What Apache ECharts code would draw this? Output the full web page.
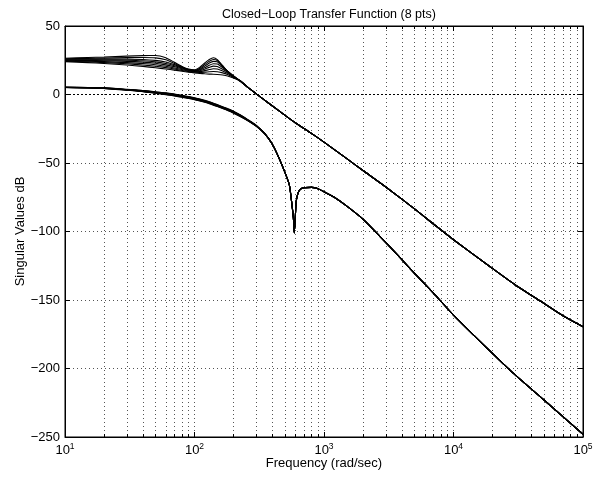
<!DOCTYPE html>
<html>
<head>
<meta charset="utf-8">
<script src="https://cdn.jsdelivr.net/npm/echarts@6/dist/echarts.min.js"></script>
<style>
  html, body { margin: 0; padding: 0; background: #fff; }
  #main { width: 606px; height: 483px; }
</style>
</head>
<body>
<div id="main"></div>
<script>
// frequencies (rad/sec) for the part where the 8 curves differ
var headFreq = [10, 15, 20, 30, 40, 50, 60, 70, 80, 90, 100, 110, 120, 130, 140, 150, 165, 180, 200, 225, 260, 300];

// upper singular value, one row per point (8 pts)
var upper1 = [24.0, 23.3, 22.6, 21.5, 20.5, 19.5, 18.6, 17.8, 17.0, 16.3, 15.8, 15.4, 15.1, 14.9, 14.8, 14.6, 14.2, 13.5, 12.0, 9.7, 5.0, 0.5];
var upper2 = [24.3, 23.8, 23.3, 22.4, 21.5, 20.6, 19.6, 18.6, 17.6, 16.7, 16.2, 16.1, 16.3, 16.6, 16.8, 16.6, 15.8, 14.6, 12.5, 9.8, 5.0, 0.5];
var upper3 = [24.7, 24.3, 24.0, 23.3, 22.6, 21.7, 20.6, 19.4, 18.2, 17.1, 16.6, 16.7, 17.4, 18.2, 18.8, 18.6, 17.2, 15.5, 12.8, 9.9, 5.0, 0.5];
var upper4 = [25.0, 24.8, 24.6, 24.2, 23.6, 22.8, 21.6, 20.2, 18.8, 17.5, 16.9, 17.3, 18.5, 19.8, 20.7, 20.5, 18.5, 16.2, 13.1, 10.0, 5.0, 0.5];
var upper5 = [25.4, 25.3, 25.2, 25.0, 24.6, 23.8, 22.6, 21.0, 19.3, 17.8, 17.2, 17.9, 19.6, 21.4, 22.5, 22.3, 19.6, 16.7, 13.3, 10.0, 5.0, 0.5];
var upper6 = [25.7, 25.8, 25.8, 25.8, 25.6, 24.9, 23.7, 21.8, 19.8, 18.0, 17.4, 18.5, 20.7, 23.0, 24.2, 23.9, 20.4, 17.0, 13.4, 10.0, 5.0, 0.5];
var upper7 = [26.1, 26.4, 26.5, 26.9, 27.0, 26.7, 25.3, 22.7, 20.2, 18.2, 17.6, 19.2, 21.9, 24.3, 25.6, 24.8, 20.8, 17.0, 13.5, 10.0, 5.0, 0.5];
var upper8 = [26.5, 27.0, 27.3, 28.0, 28.4, 28.5, 26.8, 23.5, 20.5, 18.5, 18.0, 20.0, 23.0, 25.5, 26.8, 25.5, 21.0, 17.0, 13.5, 10.0, 5.0, 0.5];

// lower singular value
var lower1 = [5.3, 5.1, 4.9, 3.8, 2.9, 1.9, 1.2, 0.3, -0.6, -1.5, -2.4, -3.3, -4.3, -5.3, -6.4, -7.4, -8.9, -10.3, -12.2, -14.8, -18.5, -22.5];
var lower2 = [5.3, 5.1, 4.8, 3.7, 2.8, 1.8, 1.0, 0.1, -0.8, -1.7, -2.6, -3.5, -4.5, -5.5, -6.6, -7.6, -9.1, -10.5, -12.4, -15.0, -18.7, -22.6];
var lower3 = [5.2, 5.0, 4.8, 3.6, 2.7, 1.6, 0.8, -0.1, -1.0, -1.9, -2.8, -3.7, -4.7, -5.7, -6.8, -7.8, -9.3, -10.7, -12.6, -15.2, -18.8, -22.7];
var lower4 = [5.2, 5.0, 4.7, 3.5, 2.5, 1.5, 0.6, -0.3, -1.2, -2.1, -3.0, -3.9, -4.9, -5.9, -7.0, -8.0, -9.5, -10.9, -12.8, -15.3, -18.9, -22.8];
var lower5 = [5.2, 4.9, 4.6, 3.4, 2.4, 1.3, 0.4, -0.5, -1.4, -2.3, -3.2, -4.1, -5.1, -6.1, -7.2, -8.2, -9.7, -11.1, -13.0, -15.5, -19.0, -22.9];
var lower6 = [5.1, 4.9, 4.6, 3.3, 2.3, 1.2, 0.3, -0.7, -1.6, -2.5, -3.4, -4.3, -5.3, -6.3, -7.4, -8.4, -9.9, -11.3, -13.2, -15.6, -19.1, -23.0];
var lower7 = [5.1, 4.8, 4.5, 3.2, 2.2, 1.1, 0.1, -0.9, -1.8, -2.7, -3.6, -4.5, -5.5, -6.5, -7.6, -8.6, -10.1, -11.5, -13.4, -15.8, -19.2, -23.1];
var lower8 = [5.1, 4.8, 4.5, 3.1, 2.1, 0.9, -0.1, -1.1, -2.0, -2.9, -3.8, -4.7, -5.7, -6.7, -7.8, -8.8, -10.3, -11.7, -13.6, -16.0, -19.3, -23.2];

// high frequency part, common to all 8 curves
var upperTailFreq = [350, 400, 500, 600, 800, 1000, 1500, 2000, 3000, 5000, 7000, 10000, 20000, 30000, 50000, 70000, 100000];
var upperTail = [-4.3, -8.4, -15.2, -20.6, -28.4, -34.8, -46.8, -55.5, -67.5, -83.5, -94.5, -106, -127, -139, -152.5, -161.5, -169.5];

var lowerTailFreq = [350, 400, 450, 500, 540, 565, 580, 590, 600, 610, 630, 655, 700, 800, 880, 1000, 1200, 1500, 2000, 2700, 3900, 5000, 7000, 10000, 19000, 28600, 50000, 100000];
var lowerTail = [-28.8, -36.5, -46.5, -57, -66, -80, -90, -101, -90, -78, -72, -69.3, -68, -67.8, -68.5, -71, -75, -81.5, -91, -103.5, -119.5, -130.5, -145, -161, -187, -203, -223, -248];

var yTicks = [50, 0, -50, -100, -150, -200, -250];
var zeroLine = 0;

var upperRows = [upper1, upper2, upper3, upper4, upper5, upper6, upper7, upper8];
var lowerRows = [lower1, lower2, lower3, lower4, lower5, lower6, lower7, lower8];

function build(head, tailF, tail) {
  var d = [];
  for (var i = 0; i < headFreq.length; i++) d.push([headFreq[i], head[i]]);
  for (var j = 0; j < tailF.length; j++) d.push([tailF[j], tail[j]]);
  return d;
}

var FONT = "Liberation Sans";
var dots = { color: "#555", width: 1, type: [1, 3] };

var series = [];
upperRows.forEach(function (r, i) {
  series.push({
    name: "upper" + (i + 1), type: "line", data: build(r, upperTailFreq, upperTail),
    showSymbol: false, silent: true, smooth: 0.2,
    lineStyle: { color: "#000", width: 1.1 }
  });
});
lowerRows.forEach(function (r, i) {
  series.push({
    name: "lower" + (i + 1), type: "line", data: build(r, lowerTailFreq, lowerTail),
    showSymbol: false, silent: true, smooth: 0.2,
    lineStyle: { color: "#000", width: 1.1 }
  });
});
// 0 dB reference line
series[0].markLine = {
  silent: true, symbol: "none", label: { show: false },
  lineStyle: { color: "#000", width: 1, type: [2, 2] },
  data: [{ yAxis: zeroLine }]
};

var myChart = echarts.init(document.getElementById("main"));
myChart.setOption({
  animation: false,
  backgroundColor: "#fff",
  textStyle: { fontFamily: FONT },
  title: {
    text: "Closed\u2212Loop Transfer Function (8 pts)",
    left: 324, top: 3, textAlign: "center",
    textStyle: { fontFamily: FONT, fontSize: 12.5, fontWeight: "normal", color: "#000" }
  },
  grid: { left: 65, right: 23, top: 26, bottom: 46, show: true, borderColor: "#000", borderWidth: 1 },
  xAxis: [{
    type: "log", logBase: 10, min: 10, max: 100000,
    name: "Frequency (rad/sec)", nameLocation: "middle", nameGap: 20, nameMoveOverlap: false,
    nameTextStyle: { fontFamily: FONT, fontSize: 13, color: "#000" },
    axisLine: { onZero: false, lineStyle: { color: "#000" } },
    axisTick: { inside: true, length: 5, lineStyle: { color: "#000" } },
    minorTick: { show: true, splitNumber: 9, length: 3, lineStyle: { color: "#000" } },
    splitLine: { show: true, lineStyle: dots },
    minorSplitLine: { show: true, lineStyle: dots },
    axisLabel: {
      margin: 5, color: "#000",
      formatter: function (v) { return "{b|10}{s|" + Math.round(Math.log10(v)) + "}"; },
      rich: {
        b: { fontFamily: FONT, fontSize: 13, color: "#000" },
        s: { fontFamily: FONT, fontSize: 8.5, color: "#000", verticalAlign: "top", padding: [0, 0, 7, 0] }
      }
    }
  }, {
    type: "log", logBase: 10, min: 10, max: 100000, position: "top",
    axisLine: { onZero: false, lineStyle: { color: "#000" } },
    axisTick: { inside: true, length: 5, lineStyle: { color: "#000" } },
    minorTick: { show: true, splitNumber: 9, length: 3, lineStyle: { color: "#000" } },
    splitLine: { show: false }, axisLabel: { show: false }
  }],
  yAxis: [{
    type: "value", min: -250, max: 50, interval: 50,
    name: "Singular Values dB", nameLocation: "middle", nameGap: 38, nameMoveOverlap: false,
    nameTextStyle: { fontFamily: FONT, fontSize: 13, color: "#000" },
    axisLine: { show: true, onZero: false, lineStyle: { color: "#000" } },
    axisTick: { show: true, inside: true, length: 5, lineStyle: { color: "#000" } },
    splitLine: { show: true, lineStyle: dots },
    axisLabel: {
      margin: 5, color: "#000", fontFamily: FONT, fontSize: 13,
      formatter: function (v) { return yTicks.indexOf(v) >= 0 ? String(v).replace("-", "\u2212") : ""; }
    }
  }, {
    type: "value", min: -250, max: 50, interval: 50, position: "right",
    axisLine: { show: true, onZero: false, lineStyle: { color: "#000" } },
    axisTick: { show: true, inside: true, length: 5, lineStyle: { color: "#000" } },
    splitLine: { show: false }, axisLabel: { show: false }
  }],
  series: series
});
</script>
</body>
</html>
